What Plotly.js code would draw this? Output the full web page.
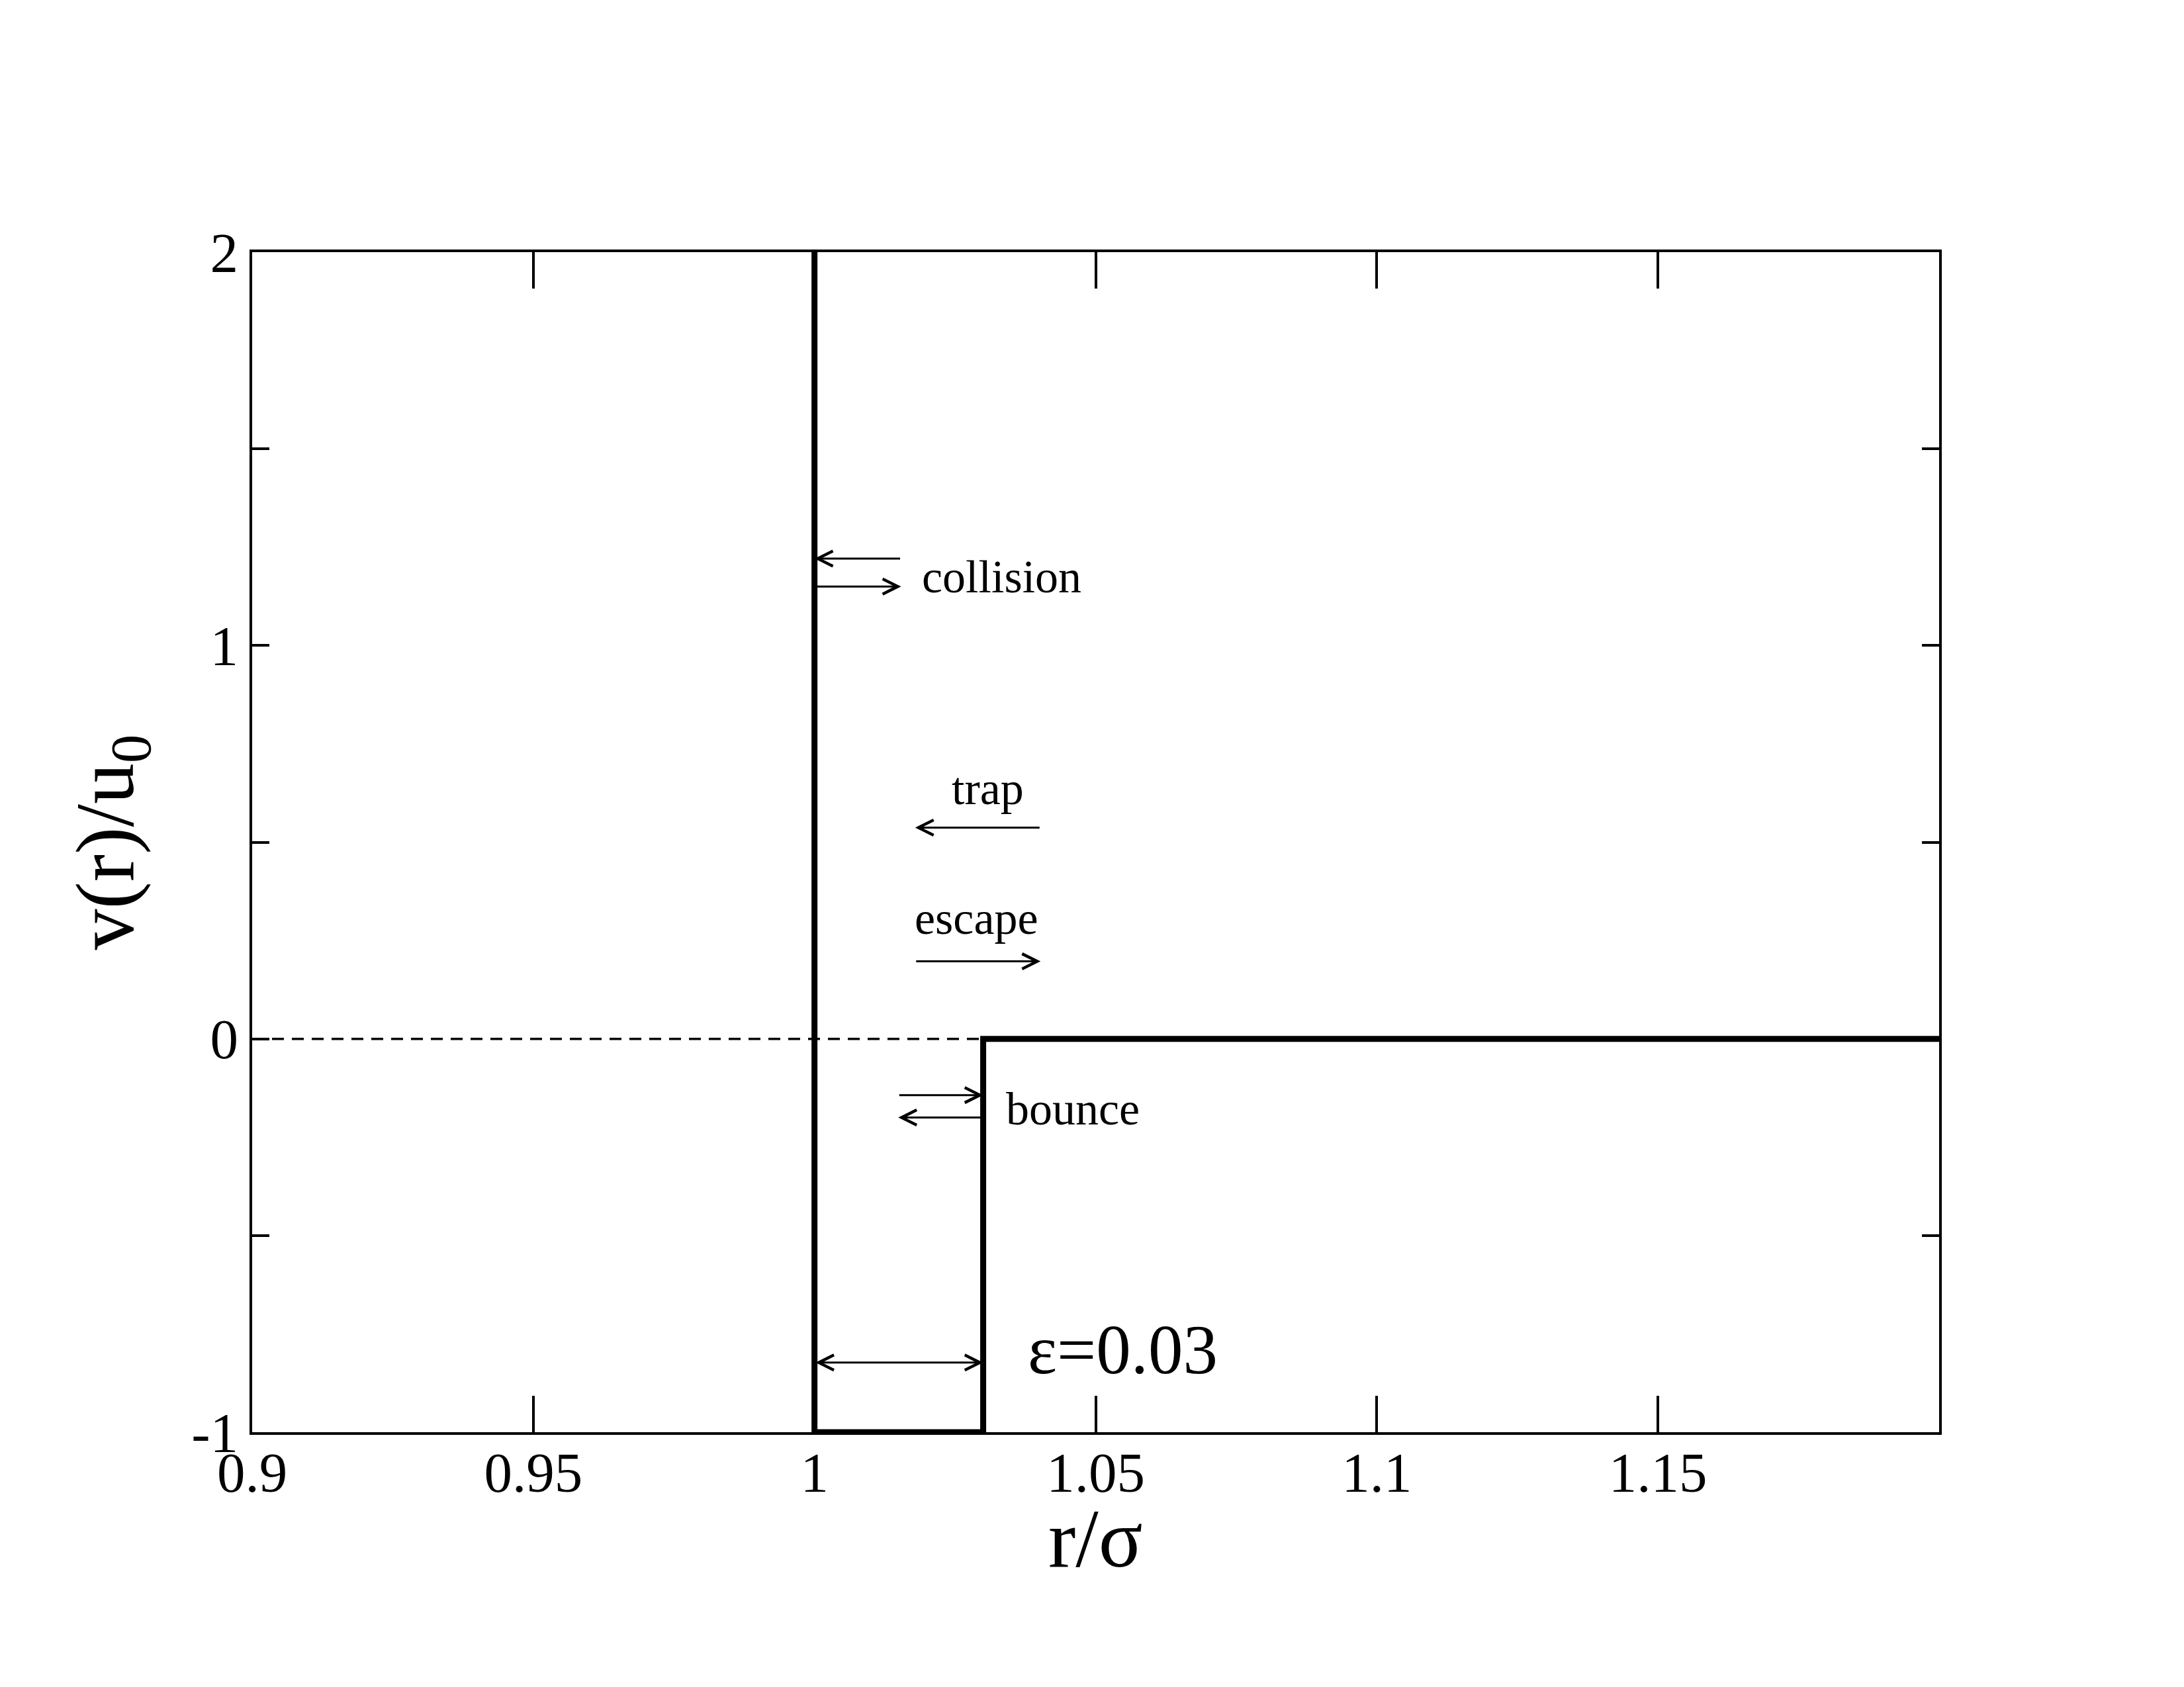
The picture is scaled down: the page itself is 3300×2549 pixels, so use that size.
<!DOCTYPE html>
<html>
<head>
<meta charset="utf-8">
<script src="https://cdn.plot.ly/plotly-3.0.1.min.js"></script>
<style>html,body{margin:0;padding:0;background:#fff;}#chart{width:3300px;height:2549px;}</style>
</head>
<body>
<div id="chart"></div>
<script>
// ---- data ----
const potentialX = [1.0, 1.0, 1.03, 1.03, 1.2];
const potentialY = [2.0, -1.0, -1.0, 0.0, 0.0];
const zeroLineX = [0.9, 1.03];
const zeroLineY = [0.0, 0.0];

const xTickVals = [0.9, 0.95, 1.0, 1.05, 1.1, 1.15];
const xTickText = ['0.9', '0.95', '1', '1.05', '1.1', '1.15'];
const yTickVals = [-1, 0, 1, 2];
const yTickText = ['-1', '0', '1', '2'];
const yMinorVals = [-0.5, 0.5, 1.5];

const xTitle = 'r/σ';
const yTitle = 'v(r)/u<sub>0</sub>';

// arrows: tail (from) and head (to), data coordinates
const arrowFromX = [1.0154, 1.0,    1.0402, 1.0179, 1.0149, 1.03];
const arrowFromY = [1.221,  1.150,  0.537,  0.197,  -0.143, -0.200];
const arrowToX   = [1.0,    1.0154, 1.0179, 1.0402, 1.03,   1.0149];
const arrowToY   = [1.221,  1.150,  0.537,  0.197,  -0.143, -0.200];

const widthArrowX = [1.0, 1.03];
const widthArrowY = [-0.823, -0.823];

const labelText = ['collision', 'trap', 'escape', 'bounce'];
const labelX    = [1.0189, 1.0308, 1.0288, 1.0338];
const labelY    = [1.175, 0.636, 0.307, -0.178];
const labelAnchor = ['left', 'center', 'center', 'left'];

const epsText = 'ε=0.03';
const epsX = 1.0377, epsY = -0.791;

const FONT = 'Liberation Serif, Times New Roman, serif';

const traces = [
  {x: zeroLineX, y: zeroLineY, mode: 'lines', line: {color: '#000', width: 3.5, dash: '18px,12px'}, hoverinfo: 'skip'},
  {x: potentialX, y: potentialY, mode: 'lines', line: {color: '#000', width: 9, shape: 'linear'}, hoverinfo: 'skip'}
];

const annotations = [];
for (let i = 0; i < arrowFromX.length; i++) {
  annotations.push({
    x: arrowToX[i], y: arrowToY[i], ax: arrowFromX[i], ay: arrowFromY[i],
    xref: 'x', yref: 'y', axref: 'x', ayref: 'y',
    text: '', showarrow: true, arrowhead: 5, arrowsize: 1.5, arrowwidth: 3,
    arrowcolor: '#000', standoff: 0, startstandoff: 0
  });
}
annotations.push({
  x: widthArrowX[1], y: widthArrowY[1], ax: widthArrowX[0], ay: widthArrowY[0],
  xref: 'x', yref: 'y', axref: 'x', ayref: 'y',
  text: '', showarrow: true, arrowhead: 5, startarrowhead: 5, arrowside: 'end+start',
  arrowsize: 1.5, startarrowsize: 1.5, arrowwidth: 3, arrowcolor: '#000', standoff: 0, startstandoff: 0
});
for (let i = 0; i < labelText.length; i++) {
  annotations.push({
    x: labelX[i], y: labelY[i], xref: 'x', yref: 'y', text: labelText[i],
    showarrow: false, xanchor: labelAnchor[i], yanchor: 'middle',
    font: {family: FONT, size: 70, color: '#000'}
  });
}
annotations.push({
  x: epsX, y: epsY, xref: 'x', yref: 'y', text: epsText, showarrow: false,
  xanchor: 'left', yanchor: 'middle', font: {family: FONT, size: 105, color: '#000'}
});
// axis titles placed like the original
annotations.push({
  x: -0.0832, y: 0.5, xref: 'paper', yref: 'paper', text: yTitle,
  showarrow: false, textangle: -90, xanchor: 'center', yanchor: 'middle',
  font: {family: FONT, size: 124, color: '#000'}
});
annotations.push({
  x: 0.5, y: -0.0903, xref: 'paper', yref: 'paper', text: xTitle,
  showarrow: false, xanchor: 'center', yanchor: 'middle',
  font: {family: FONT, size: 124, color: '#000'}
});

const layout = {
  width: 3300, height: 2549,
  margin: {l: 381, r: 370, t: 381, b: 385},
  paper_bgcolor: '#fff', plot_bgcolor: '#fff',
  showlegend: false,
  font: {family: FONT, color: '#000'},
  xaxis: {
    range: [0.9, 1.2], tickvals: xTickVals, ticktext: xTickText,
    ticks: 'inside', ticklen: 55, tickwidth: 4, tickcolor: '#000',
    showline: true, linewidth: 4, linecolor: '#000', mirror: 'allticks',
    showgrid: false, zeroline: false,
    tickfont: {family: FONT, size: 85, color: '#000'},
    ticklabelstandoff: -16
  },
  yaxis: {
    range: [-1, 2], tickvals: yTickVals, ticktext: yTickText,
    ticks: 'inside', ticklen: 26, tickwidth: 4, tickcolor: '#000',
    minor: {tickvals: yMinorVals, ticks: 'inside', ticklen: 26, tickwidth: 4, tickcolor: '#000'},
    showline: true, linewidth: 4, linecolor: '#000', mirror: 'allticks',
    showgrid: false, zeroline: false,
    tickfont: {family: FONT, size: 85, color: '#000'},
    ticklabelstandoff: 0
  },
  annotations: annotations
};

Plotly.newPlot('chart', traces, layout, {staticPlot: true, displayModeBar: false});
</script>
</body>
</html>
